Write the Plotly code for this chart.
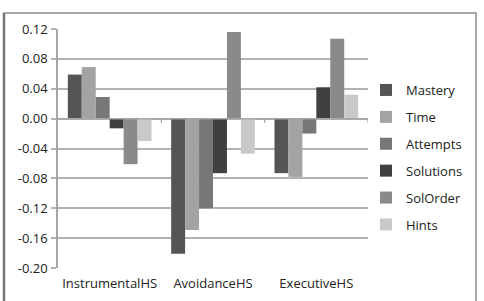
import plotly.graph_objects as go

categories = ["InstrumentalHS", "AvoidanceHS", "ExecutiveHS"]
series_names = ["Mastery", "Time", "Attempts", "Solutions", "SolOrder", "Hints"]
mastery = [0.059, -0.181, -0.073]
time_v = [0.069, -0.149, -0.078]
attempts = [0.029, -0.120, -0.020]
solutions = [-0.013, -0.073, 0.042]
solorder = [-0.061, 0.116, 0.107]
hints = [-0.030, -0.047, 0.032]
series_values = [mastery, time_v, attempts, solutions, solorder, hints]
colors = ["#555555", "#a3a3a3", "#777777", "#404040", "#8a8a8a", "#c9c9c9"]
y_ticks = [0.12, 0.08, 0.04, 0.00, -0.04, -0.08, -0.12, -0.16, -0.20]

fig = go.Figure()
for i, (name, vals, col) in enumerate(zip(series_names, series_values, colors)):
    fig.add_trace(go.Bar(x=categories, y=vals, name=name, marker=dict(color=col, line=dict(width=0)),
                         legendgroup=f"g{i}"))

W, H = 484, 301
ml, mr, mt, mb = 58, 116, 29, 33
pw, ph = W - ml - mr, H - mt - mb

def px_x(p):
    return (p - ml) / pw

def px_y(p):
    return (H - mb - p) / ph

shapes = [
    # outer chart border
    dict(type="rect", xref="paper", yref="paper", x0=px_x(4), x1=px_x(476), y0=px_y(310), y1=px_y(13),
         line=dict(color="#8c8c8c", width=1.5), fillcolor="rgba(0,0,0,0)", layer="below"),
    dict(type="line", xref="paper", yref="paper", x0=px_x(4), x1=px_x(4), y0=px_y(310), y1=px_y(13),
         line=dict(color="#777777", width=2.5)),
    # zero axis line
    dict(type="line", xref="paper", yref="y", x0=0, x1=1, y0=0, y1=0, line=dict(color="#a6a6a6", width=1.5)),
]
for xb in [0.5, 1.5, 2.5]:
    shapes.append(dict(type="line", xref="x", yref="y", x0=xb, x1=xb, y0=0, y1=-0.006,
                       line=dict(color="#a6a6a6", width=1.2)))

fig.update_layout(
    width=W, height=H,
    margin=dict(l=ml, r=mr, t=mt, b=mb, autoexpand=False),
    paper_bgcolor="white", plot_bgcolor="white",
    barmode="group", bargap=0.19, bargroupgap=0,
    font=dict(family="Open Sans", size=13, color="#222222"),
    showlegend=True,
    legend=dict(x=px_x(366), y=px_y(75), xanchor="left", yanchor="top",
                font=dict(size=13), tracegroupgap=7, itemwidth=30, bgcolor="rgba(0,0,0,0)"),
    xaxis=dict(range=[-0.5, 2.5], showline=False, showgrid=False, ticks="", tickfont=dict(size=13),
               ticklabelstandoff=6, fixedrange=True),
    yaxis=dict(range=[-0.20, 0.12], tickvals=y_ticks, ticktext=[f"{v:.2f}" for v in y_ticks],
               showgrid=True, gridcolor="#b3b3b3", gridwidth=1.5, zeroline=False,
               showline=True, linecolor="#a6a6a6", linewidth=1.5,
               ticks="outside", ticklen=5, tickcolor="#b3b3b3", tickwidth=1.5,
               ticklabelstandoff=1, tickfont=dict(size=13)),
    shapes=shapes,
)

fig.write_html("out.html")
